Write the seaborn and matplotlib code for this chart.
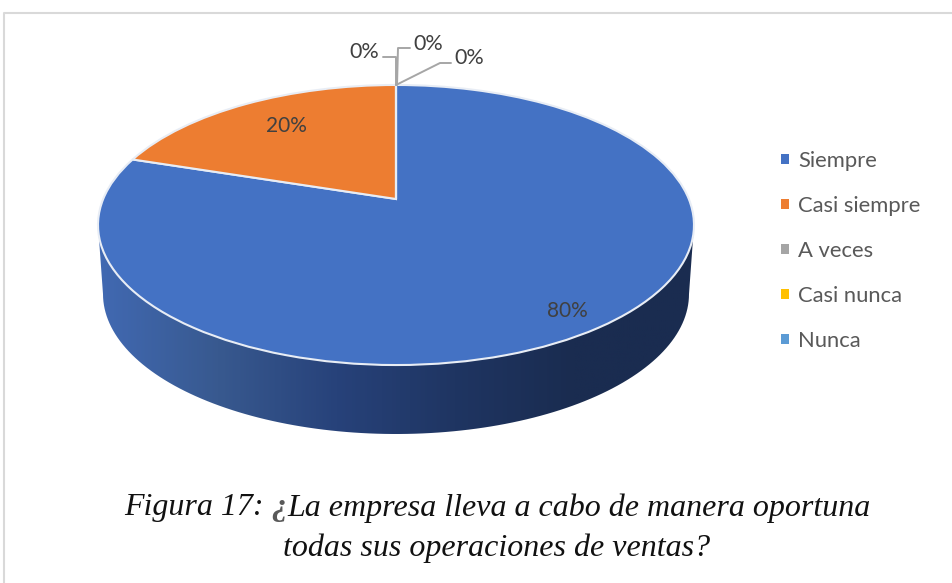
import numpy as np
import matplotlib
matplotlib.use('Agg')
import matplotlib.pyplot as plt
import matplotlib.transforms as mtransforms
from matplotlib.path import Path
from matplotlib.patches import PathPatch
import seaborn as sns

categories = ['Siempre', 'Casi siempre', 'A veces', 'Casi nunca', 'Nunca']
values = [80, 20, 0, 0, 0]
colors = ['#4472C4', '#ED7D31', '#A5A5A5', '#FFC000', '#5B9BD5']
caption_1 = 'Figura 17: '
caption_q = '¿'
caption_2 = 'La empresa lleva a cabo de manera oportuna'
caption_3 = 'todas sus operaciones de ventas?'

sns.set_theme(style='white')
plt.rcParams['font.family'] = ['Lato', 'DejaVu Sans']


# perspectiva del disco: circulo unidad -> pixeles de la figura
class Tilt(mtransforms.Transform):
    input_dims = 2
    output_dims = 2

    def transform_non_affine(self, xy):
        xy = np.asarray(xy, dtype=float)
        d = 1 + 0.1857 * xy[:, 1]
        return np.column_stack([396 + 292.8 * xy[:, 0] / d, 199 - 135.2 * xy[:, 1] / d])


fig = plt.figure(figsize=(9.53, 5.83), dpi=100)
ax = fig.add_axes([0, 0, 1, 1])

wedges, _ = ax.pie(values, colors=sns.color_palette(colors), startangle=90, counterclock=False,
                   wedgeprops={'edgecolor': '#E8EDF5', 'linewidth': 1.5})
for w in wedges:
    w.set_transform(Tilt() + ax.transData)
    w.set_zorder(2)

# lateral del disco con degradado
t = np.linspace(np.pi, 0, 120)
side = np.vstack([[98, 225], np.column_stack([396 + 293 * np.cos(t), 294 + 140 * np.sin(t)]), [694, 225], [98, 225]])
cmap = sns.blend_palette(['#4169B2', '#38598F', '#27427A', '#1F3562', '#1A2C50', '#1A2C50'], as_cmap=True)
im = ax.imshow(np.linspace(0, 1, 300).reshape(1, -1), cmap=cmap, aspect='auto',
               extent=[98, 694, 434, 225], zorder=1)
im.set_clip_path(PathPatch(Path(side), transform=ax.transData))

ax.set_aspect('auto')
ax.set_xlim(0, 953)
ax.set_ylim(583, 0)
ax.axis('off')

# marco
ax.plot([4, 4, 953], [583, 13, 13], color='#D9D9D9', lw=1.5, zorder=1)

# etiquetas de datos
labels = [f'{v}%' for v in values]
ax.text(567, 311, labels[0], fontsize=15, color='#404040', ha='center', va='center', zorder=3)
ax.text(286, 126, labels[1], fontsize=15, color='#404040', ha='center', va='center', zorder=3)
ax.text(364, 52, labels[2], fontsize=15.5, color='#404040', ha='center', va='center', zorder=3)
ax.text(428, 44, labels[3], fontsize=15.5, color='#404040', ha='center', va='center', zorder=3)
ax.text(469, 58, labels[4], fontsize=15.5, color='#404040', ha='center', va='center', zorder=3)
for xs, ys in [([383, 396, 396], [57, 57, 85]), ([410, 398, 397], [48, 48, 85]), ([451, 440, 396], [63, 63, 85])]:
    ax.plot(xs, ys, color='#A6A6A6', lw=1.4, zorder=3)

# leyenda
leg = ax.legend(wedges, categories, loc='upper left', bbox_to_anchor=(781, 151), bbox_transform=ax.transData,
                frameon=False, fontsize=15.8, labelcolor='#595959', handlelength=0.36, handleheight=0.36,
                handletextpad=0.41, labelspacing=1.136, borderpad=0, borderaxespad=0)
for h in leg.legend_handles:
    h.set_edgecolor('none')

# pie de figura
serif = ['Liberation Serif', 'DejaVu Serif']
cap = dict(fontsize=23, family=serif, style='italic', color='#111111', va='center')
ax.text(124, 508, caption_1, ha='left', **cap)
ax.text(271, 508, caption_q, ha='left', fontsize=23, family=serif, style='italic', weight='bold', color='#595959', va='center')
ax.text(871, 508, caption_2, ha='right', **cap)
ax.text(497, 548, caption_3, ha='center', **cap)

fig.savefig('out.png', dpi=100)
